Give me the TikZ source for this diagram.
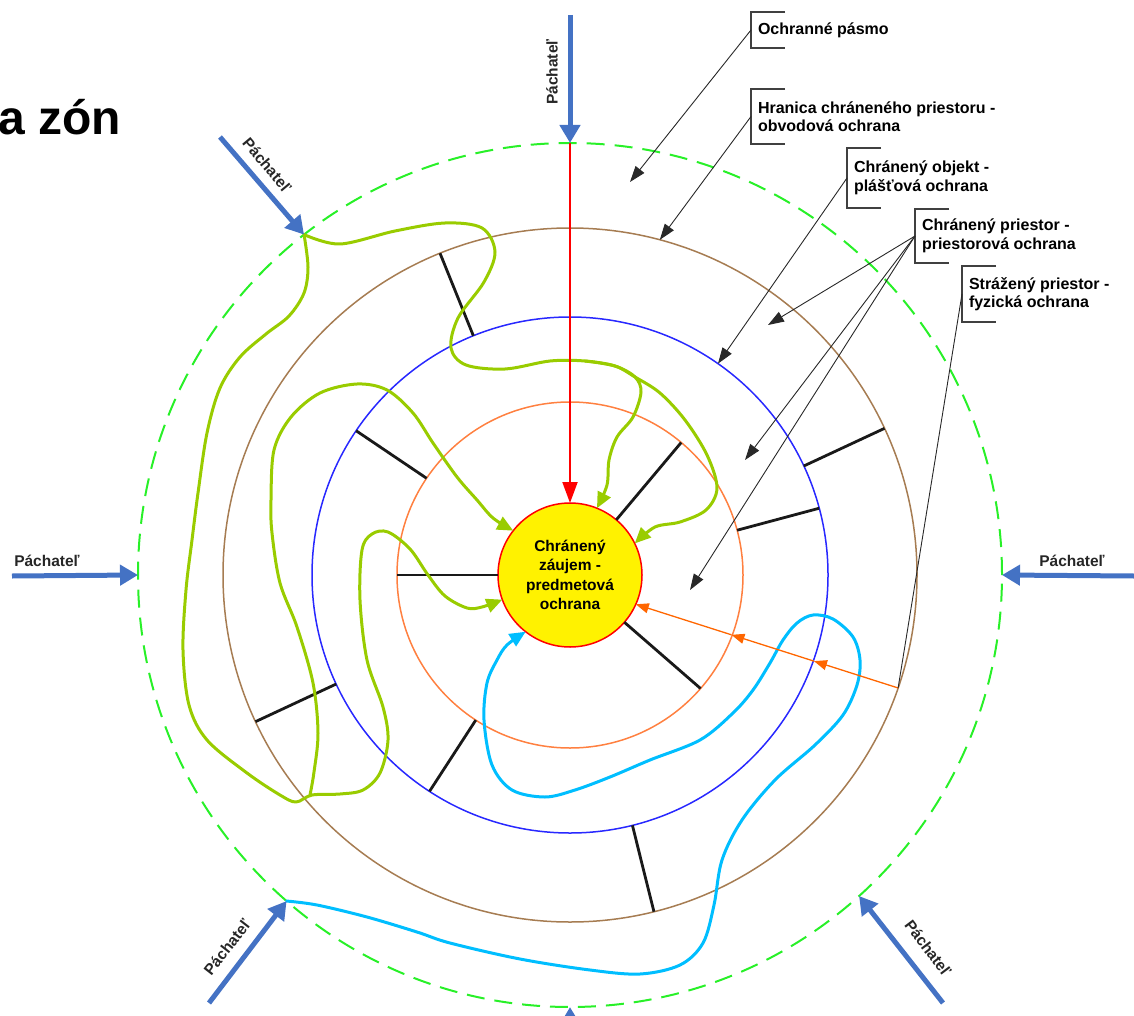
\documentclass[tikz,border=0pt]{standalone}
\usepackage{fontspec}
\setmainfont{Liberation Sans}
\usetikzlibrary{arrows.meta,calc}

\definecolor{pblue}{RGB}{68,114,196}
\definecolor{zonegreen}{RGB}{40,240,40}
\definecolor{zonebrown}{RGB}{166,124,82}
\definecolor{zoneblue}{RGB}{40,40,255}
\definecolor{zoneorange}{RGB}{255,128,64}
\definecolor{pathgreen}{RGB}{153,204,0}
\definecolor{pathcyan}{RGB}{0,190,255}
\definecolor{arroworange}{RGB}{255,102,0}
\definecolor{leadergray}{RGB}{40,40,40}

\begin{document}
\begin{tikzpicture}[x=1pt,y=-1pt,
  zone/.style={circle, draw, minimum size=#1, inner sep=0pt, outer sep=0pt, line width=1.5pt},
  wall/.style={draw=black!90, line width=2.8pt},
  intruder/.style={draw=pblue, line width=5pt, -{Triangle[length=18pt,width=20pt]}},
  intrlabel/.style={font=\fontsize{15.5}{18}\selectfont\bfseries, text=black!85, inner sep=0pt},
  route/.style={line width=3pt, line cap=round, line join=round},
  greenroute/.style={route, draw=pathgreen, -{Triangle[length=16pt,width=14pt]}, color=pathgreen},
  cyanroute/.style={route, draw=pathcyan, -{Triangle[length=16pt,width=14pt]}, color=pathcyan},
  orangearrow/.style={draw=arroworange, color=arroworange, line width=1.3pt, -{Triangle[length=13pt,width=10pt]}},
  callout/.style={anchor=west, inner xsep=7pt, inner ysep=0pt, outer sep=0pt, align=left,
    font=\fontsize{16}{18.5}\selectfont\bfseries, minimum height=#1},
  bracket/.style={draw=black!75, line width=1.5pt},
  leader/.style={draw=leadergray, line width=0.9pt, -{Triangle[length=16pt,width=11pt]}},
]
\useasboundingbox (0,0) rectangle (1134,1016);
\clip (0,0) rectangle (1134,1016);

% heading
\node[anchor=base west, inner sep=0pt, font=\fontsize{48}{56}\selectfont\bfseries] (title) at (-2,135) {a zón};

% protection zones
\node[zone=864pt, draw=zonegreen, line width=2pt, dash pattern=on 18pt off 10pt] (gz) at (570,575) {};
\node[zone=694pt, draw=zonebrown] (brown) at (570,575) {};
\node[zone=516pt, draw=zoneblue] (blue) at (570,575) {};
\node[zone=346pt, draw=zoneorange] (orange) at (570,575) {};
\node[zone=144pt, draw=red, fill=yellow, align=center,
      font=\fontsize{15.5}{19.5}\selectfont\bfseries] (core) at (570,575)
      {Chránený\\záujem -\\predmetová\\ochrana};

% barriers between zones
\draw[wall] (brown.112) -- (blue.112);
\draw[wall] (blue.146.5) -- (orange.146.5);
\draw[wall] (orange.180) -- (core.180);
\draw[wall] (brown.205.5) -- (blue.205.5);
\draw[wall] (blue.237.5) -- (orange.237.5);
\draw[wall] (blue.284.3) -- (brown.284.3);
\draw[wall] (core.-41) -- (orange.-41);
\draw[wall] (core.50) -- (orange.50);
\draw[wall] (blue.25) -- (brown.25);
\draw[wall] (orange.15) -- (blue.15);

% intruder routes (green)
\draw[greenroute] plot[smooth, tension=0.55] coordinates {
  (gz.128.5) (340,244) (395,231) (445,223) (482,228) (495,252) (484,282)
  (458,318) (451,348) (466,365) (505,369) (550,361) (585,361) (615,366)
  (635,377) (660,393) (685,420) (707,455) (717,488) (706,510) (680,522)
  (655,527) (core.26)};
\draw[greenroute] plot[smooth, tension=0.55] coordinates {
  (585,361) (615,366) (635,377) (641,392) (633,417) (617,437) (609,460)
  (607,485) (core.68)};
\draw[greenroute] plot[smooth, tension=0.55] coordinates {
  (gz.128.5) (308,267) (304,293) (289,316) (266,334) (240,357) (220,388)
  (207,433) (198,493) (192,540) (186,590) (183,650) (189,705) (207,740)
  (247,773) (280,795) (296,802) (312,795) (340,794) (363,790) (380,773)
  (388,740) (383,707) (367,660) (360,600) (362,550) (372,534) (388,532)
  (410,549) (428,575) (445,596) (467,608) (482,607) (core.200)};
\draw[greenroute] plot[smooth, tension=0.55] coordinates {
  (310,795) (314,772) (318,733) (313,683) (297,627) (280,583) (272,533)
  (271,500) (274,450) (291,417) (320,393) (357,384) (387,390) (413,413)
  (433,443) (457,477) (477,500) (493,518) (core.142)};

% intruder route (cyan)
\draw[cyanroute] plot[smooth, tension=0.55] coordinates {
  (gz.229) (317,905) (367,917) (417,932) (450,943) (520,959) (590,970)
  (640,974) (680,965) (703,943) (714,905) (722,860) (742,820)
  (775,780) (815,745) (843,715) (857,685) (860,660) (853,637) (833,619) (813,615)
  (797,623) (783,640) (770,663) (753,690) (733,713) (700,740) (650,760)
  (610,777) (575,790) (545,797) (512,790) (492,765) (484,720) (487,683)
  (497,660) (507,645) (core.232)};

% direct routes
\draw[draw=red, line width=2pt, -{Triangle[length=21pt,width=15pt]}, color=red] (gz.90) -- (core.90);
\coordinate (o1) at ($(brown.-19)!0.3208!(core.-24.8)$);
\coordinate (o2) at ($(brown.-19)!0.6354!(core.-24.8)$);
\draw[orangearrow] (brown.-19) -- (o1);
\draw[orangearrow] (o1) -- (o2);
\draw[orangearrow] (o2) -- (core.-24.8);

% intruders
\coordinate (t1) at (570,15);
\coordinate (t2) at (220,137);
\coordinate (t3) at (12,576);
\coordinate (t4) at (1134,576);
\coordinate (t5) at (209,1003);
\coordinate (t6) at (943,1003);
\coordinate (t7) at (570,1070);
\draw[intruder] (t1) -- (gz.90);
\draw[intruder] (t2) -- (gz.128.5);
\draw[intruder] (t3) -- (gz.180);
\draw[intruder] (t4) -- (gz.0);
\draw[intruder] (t5) -- (gz.229);
\draw[intruder] (t6) -- (gz.312.5);
\draw[intruder] (t7) -- (gz.270);
\node[intrlabel, rotate=90] (l1) at (552,72) {Páchateľ};
\node[intrlabel, rotate=-50] (l2) at (267,165) {Páchateľ};
\node[intrlabel] (l3) at (47,561) {Páchateľ};
\node[intrlabel] (l4) at (1072,561) {Páchateľ};
\node[intrlabel, rotate=52] (l5) at (227,947) {Páchateľ};
\node[intrlabel, rotate=-53] (l6) at (928,948) {Páchateľ};

% callouts
\node[callout=36pt] (c1) at (751,30) {Ochranné pásmo};
\node[callout=55pt] (c2) at (751,116.5) {Hranica chráneného priestoru -\\obvodová ochrana};
\node[callout=60pt] (c3) at (847,178) {Chránený objekt -\\plášťová ochrana};
\node[callout=54pt] (c4) at (915,236) {Chránený priestor -\\priestorová ochrana};
\node[callout=56pt] (c5) at (962,294) {Strážený priestor -\\fyzická ochrana};
\foreach \c in {c1,c2,c3,c4,c5}{
  \draw[bracket] ([xshift=34pt]\c.north west) -- (\c.north west) -- (\c.south west) -- ([xshift=34pt]\c.south west);
}

\coordinate (a1) at (630,182);
\coordinate (a4a) at (768,325);
\coordinate (a4b) at (745,460);
\coordinate (a4c) at (690,590);
\draw[leader] (c1.west) -- (a1);
\draw[leader] (c2.west) -- (brown.75);
\draw[leader] (c3.west) -- (blue.55.6);
\draw[leader] (c4.west) -- (a4a);
\draw[leader] (c4.west) -- (a4b);
\draw[leader] (c4.west) -- (a4c);
\draw[leader, -] (c5.west) -- (brown.-19);
\end{tikzpicture}
\end{document}
